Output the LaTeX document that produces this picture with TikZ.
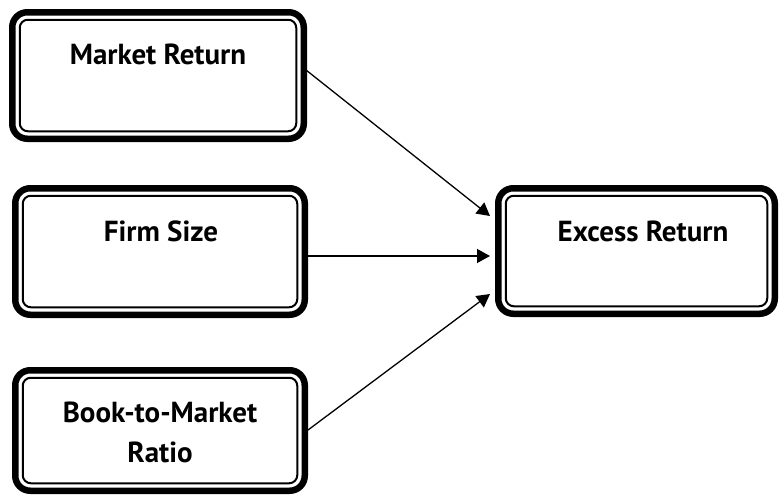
\documentclass[tikz,border=0pt]{standalone}
\usepackage{fontspec}
\setmainfont{PT Sans}
\usetikzlibrary{arrows.meta}
\tikzset{
  outerbox/.style={draw, line width=6.5pt, rounded corners=15pt, outer sep=0pt, inner sep=0pt, fill=white},
  innerline/.style={draw, line width=2pt, rounded corners=8pt},
  lbl/.style={font=\bfseries\fontsize{29}{34}\selectfont, inner sep=0pt, align=center},
  conn/.style={line width=1.3pt, -{Triangle[length=13pt,width=14pt]}}
}
\newcommand{\dbox}[5]{%
  \node[outerbox, minimum width={#4-#2-6.5pt}, minimum height={#5-#3-6.5pt}] (#1) at ({(#2+#4)/2},{(#3+#5)/2}) {};
  \draw[innerline] ([xshift=7.5pt,yshift=-7.5pt]#1.north west) rectangle ([xshift=-7.5pt,yshift=7.5pt]#1.south east);
}
\begin{document}
\begin{tikzpicture}[x=1pt,y=-1pt]
\useasboundingbox (0,0) rectangle (780,496);
\dbox{mr}{9}{9}{307}{142}
\dbox{fs}{12}{185}{308}{318}
\dbox{bm}{12}{367}{308}{494}
\dbox{er}{495}{185}{778}{317}
\node[lbl] (tmr) at (158,54) {Market Return};
\node[lbl] (tfs) at (161,231) {Firm Size};
\node[lbl] (ter) at (643,231) {Excess Return};
\node[lbl] (tbm) at (160,412) {Book-to-Market};
\node[lbl] (tra) at (160,452) {Ratio};
\coordinate (a1s) at (306,70);
\coordinate (a1e) at (490,216);
\coordinate (a2s) at (306,256);
\coordinate (a2e) at (490,256);
\coordinate (a3s) at (308,430);
\coordinate (a3e) at (490,294);
\draw[conn] (a1s) -- (a1e);
\draw[conn] (a2s) -- (a2e);
\draw[conn] (a3s) -- (a3e);
\end{tikzpicture}
\end{document}
